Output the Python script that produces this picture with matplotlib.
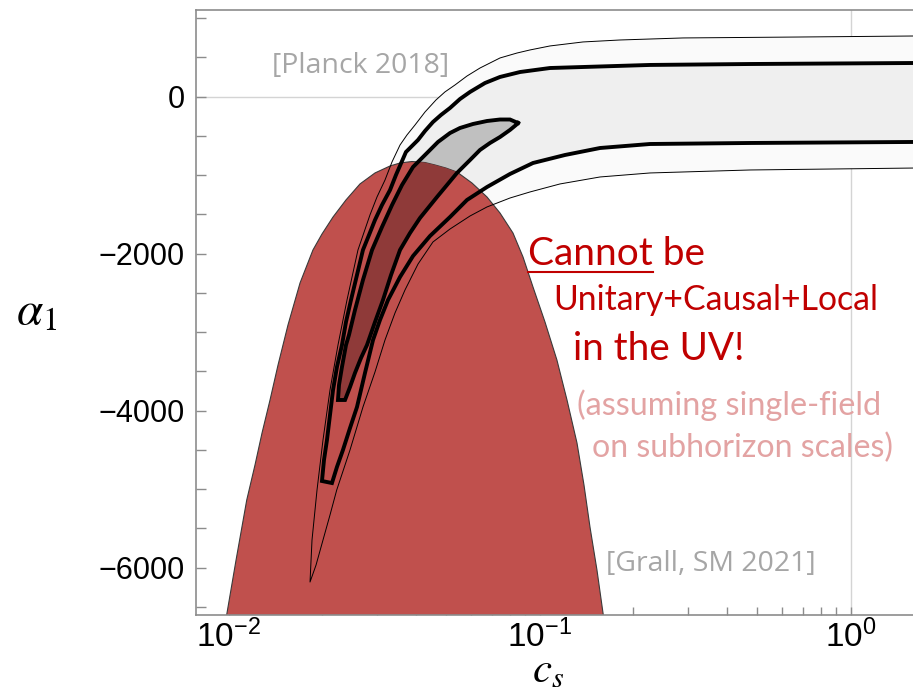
import matplotlib.pyplot as plt
from matplotlib.lines import Line2D

plt.rcParams['mathtext.fontset'] = 'custom'
plt.rcParams['mathtext.rm'] = 'Liberation Sans'
plt.rcParams['mathtext.it'] = 'Liberation Sans:italic'
plt.rcParams['mathtext.bf'] = 'Liberation Sans:bold'

# ---- data (c_s, alpha_1) ----
# region excluded by unitarity+causality+locality [Grall, SM 2021]
red_cs = [0.0097, 0.00985, 0.01056, 0.01143, 0.01215, 0.0128, 0.01358, 0.01441, 0.01551,
          0.01696, 0.01866, 0.01995, 0.02165, 0.02383, 0.02643, 0.02954, 0.03302, 0.03555,
          0.03885, 0.04278, 0.04605, 0.04994, 0.0542, 0.06057, 0.06769, 0.07453, 0.08205,
          0.08837, 0.09516, 0.1040, 0.1136, 0.1224, 0.1318, 0.1388, 0.1451, 0.1528,
          0.1598, 0.1615]
red_a = [-6700, -6604, -5904, -5139, -4693, -4285, -3865, -3419, -2910,
         -2374, -1954, -1751, -1534, -1317, -1113, -973, -884, -846,
         -827, -840, -871, -910, -961, -1101, -1279, -1483, -1738,
         -2043, -2426, -2872, -3356, -3865, -4413, -4948, -5483, -6031,
         -6579, -6700]

# Planck 2018, outer (thin) contour: upper branch down to the tip, then lower branch
outer_cs = [1.61, 0.6870, 0.2890, 0.1812, 0.1378, 0.1079, 0.09307, 0.08453, 0.07453,
            0.06427, 0.05837, 0.05341, 0.04957, 0.04640, 0.04278, 0.03972, 0.03743,
            0.03555, 0.03351, 0.03181, 0.02998, 0.02846, 0.02604, 0.02401, 0.02246,
            0.02117, 0.02010, 0.01923, 0.01853, 0.01826,
            0.01909, 0.02010, 0.02117, 0.02225, 0.02455, 0.02702, 0.02954, 0.03181,
            0.03425, 0.03688, 0.04062, 0.04537, 0.05148, 0.05970, 0.06769, 0.08025,
            0.09307, 0.1162, 0.1563, 0.2263, 0.4745, 1.61]
outer_a = [772, 759, 747, 721, 696, 645, 594, 555, 492,
           364, 262, 148, 59, -43, -196, -362, -489,
           -617, -832, -1063, -1279, -1508, -1954, -2591, -3165,
           -3738, -4375, -5012, -5649, -6184,
           -5968, -5649, -5330, -5012, -4502, -3955, -3508, -3101,
           -2757, -2464, -2133, -1852, -1687, -1521, -1406, -1292,
           -1215, -1113, -1024, -973, -935, -910]

# Planck 2018, inner (thick) contour
inner_cs = [1.61, 0.4745, 0.2263, 0.1079, 0.08644, 0.07453, 0.06670, 0.05970, 0.05542,
            0.05148, 0.04815, 0.04537, 0.04278, 0.04061, 0.03715, 0.03450, 0.03302,
            0.03111, 0.02954, 0.02826, 0.02702, 0.02585, 0.02473, 0.02383, 0.02313,
            0.02229, 0.02165, 0.02117, 0.02070, 0.02025, 0.01995,
            0.02148, 0.02229, 0.02330, 0.02455, 0.02585, 0.02743, 0.02911, 0.03065,
            0.03253, 0.03555, 0.03914, 0.04439, 0.05148, 0.05837, 0.06769, 0.08025,
            0.09516, 0.1206, 0.1563, 0.2263, 0.4745, 1.61]
inner_a = [428, 415, 403, 364, 313, 250, 173, 59, -31,
           -145, -234, -324, -438, -553, -706, -999, -1190,
           -1381, -1572, -1763, -1954, -2273, -2591, -2872, -3165,
           -3445, -3738, -4056, -4375, -4629, -4897,
           -4923, -4718, -4502, -4222, -3955, -3521, -3101, -2846,
           -2591, -2298, -2031, -1776, -1534, -1317, -1152, -986,
           -846, -744, -655, -604, -591, -578]

# smaller (thick, dark gray) contour
blob_cs = [0.08516, 0.08025, 0.07453, 0.06769, 0.06103, 0.05542, 0.05148, 0.04709, 0.04340,
           0.04121, 0.03914, 0.03608, 0.03351, 0.03111, 0.02890, 0.02702, 0.02547, 0.02436,
           0.02383, 0.02313, 0.02263, 0.02246,
           0.02366, 0.02455, 0.02547, 0.02663, 0.02784, 0.02954, 0.03134, 0.03326, 0.03555,
           0.03828, 0.04121, 0.04675, 0.05420, 0.05970, 0.06427, 0.06921, 0.07453, 0.08025,
           0.08389, 0.08516]
blob_a = [-336, -292, -292, -311, -349, -400, -464, -578, -719,
          -808, -897, -1126, -1381, -1661, -1954, -2336, -2719, -3037,
          -3165, -3445, -3674, -3865,
          -3865, -3700, -3521, -3330, -3165, -2872, -2591, -2273, -1954,
          -1738, -1547, -1279, -973, -808, -680, -591, -515, -425,
          -362, -336]

y_ticks = [-6000, -4000, -2000, 0]
y_ticklabels = ['\u22126000', '\u22124000', '\u22122000', '0']
x_ticks = [0.01, 0.1, 1]
x_ticklabels = [r'$10^{-2}$', r'$10^{-1}$', r'$10^{0}$']
x_minor = [k * 0.01 for k in range(2, 10)] + [k * 0.1 for k in range(2, 10)]

W, H = 913, 693
fig = plt.figure(figsize=(W / 100, H / 100), dpi=100)
ax = fig.add_axes([196 / W, 1 - 615 / H, 1 - 196 / W, (615 - 10) / H])
ax.set_xscale('log')
ax.set_xlim(0.00785, 1.586)
ax.set_ylim(-6604, 1103)

# grid lines at alpha=0 and c_s=1
ax.axhline(0, color='#d4d4d4', lw=1, zorder=0.5)
ax.axvline(1, color='#d4d4d4', lw=1, zorder=0.5)

# filled regions
ax.fill(outer_cs, outer_a, color='#fafafa', lw=0, zorder=1)
ax.fill(inner_cs, inner_a, color='#efefef', lw=0, zorder=1.1)
ax.fill(blob_cs, blob_a, color='#c0c0c0', lw=0, zorder=1.2)
red = ax.fill(red_cs, red_a, facecolor='#c0504d', edgecolor='#3a3a3a', lw=0.8, zorder=2)[0]
dark = ax.fill(blob_cs, blob_a, color='#8f3a39', lw=0, zorder=2.1)[0]
dark.set_clip_path(red)

# contour lines
ax.plot(outer_cs, outer_a, color='black', lw=0.7, zorder=3)
ax.plot(inner_cs, inner_a, color='black', lw=2.8, zorder=3.1, solid_joinstyle='miter')
ax.plot(blob_cs, blob_a, color='black', lw=2.8, zorder=3.2, solid_joinstyle='miter')

# axes styling
for s in ['left', 'bottom', 'top']:
    ax.spines[s].set_color('#8c8c8c')
    ax.spines[s].set_linewidth(1.2)
ax.spines['right'].set_visible(False)

ax.set_yticks(y_ticks)
ax.set_yticklabels(y_ticklabels, fontfamily='Liberation Sans', fontsize=22)
ax.set_yticks(range(-6500, 1001, 500), minor=True)
ax.set_xticks(x_ticks)
ax.set_xticklabels(x_ticklabels, fontsize=24)
ax.set_xticks(x_minor, minor=True)
ax.tick_params(axis='y', which='both', direction='in', length=7, width=1, color='#8c8c8c', pad=8)
ax.tick_params(axis='x', which='both', direction='in', length=6, width=1, color='#8c8c8c', pad=3)
ax.tick_params(axis='x', which='minor', labelbottom=False)

# axis labels
fig.text(37 / W, 1 - 312 / H, r'$\alpha_1$', fontsize=34, math_fontfamily='stix', ha='center', va='center')
fig.text(548 / W, 1 - 691 / H, r'$c_s$', fontsize=31, math_fontfamily='stix', ha='center', va='bottom')

# annotations
fig.text(272 / W, 1 - 66 / H, '[Planck 2018]', color='#a6a6a6', fontsize=20.5, family='Open Sans', va='center')
fig.text(606 / W, 1 - 564 / H, '[Grall, SM 2021]', color='#a6a6a6', fontsize=20.5, family='Open Sans', va='center')

red_txt = '#c00000'
pale_txt = '#e3a3a3'
fig.text(528 / W, 1 - 265 / H, 'Cannot be', color=red_txt, fontsize=28, family='Lato', va='baseline')
fig.add_artist(Line2D([528 / W, 653 / W], [1 - 272 / H, 1 - 272 / H], color=red_txt, lw=1.5))
fig.text(553 / W, 1 - 310 / H, 'Unitary+Causal+Local', color=red_txt, fontsize=24.3, family='Lato', va='baseline')
fig.text(573 / W, 1 - 360 / H, 'in the UV!', color=red_txt, fontsize=27.8, family='Lato', va='baseline')
fig.text(577 / W, 1 - 415 / H, '(assuming single-field', color=pale_txt, fontsize=23.3, family='Lato', va='baseline')
fig.text(592 / W, 1 - 457 / H, 'on subhorizon scales)', color=pale_txt, fontsize=23.1, family='Lato', va='baseline')

fig.savefig('out.png', dpi=100)
